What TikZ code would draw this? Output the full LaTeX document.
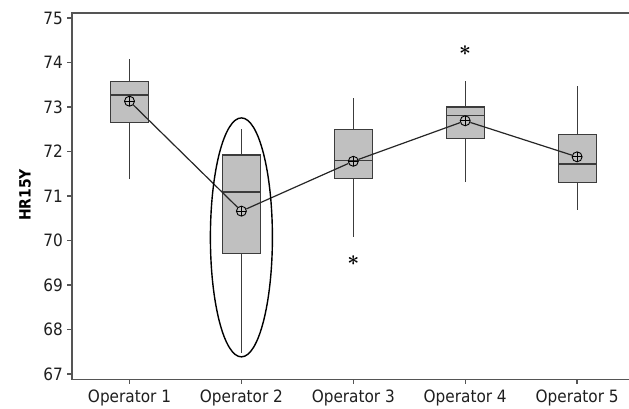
\documentclass[tikz,border=0pt]{standalone}
\usepackage{fontspec}
\setmainfont{DejaVu Sans Condensed}
\definecolor{boxfill}{RGB}{192,192,192}
\definecolor{boxline}{RGB}{60,60,60}
\definecolor{axisgray}{RGB}{85,85,85}
\tikzset{
  axis/.style={draw=axisgray, line width=1.3pt},
  whisker/.style={draw=boxline, line width=1.1pt},
  qbox/.style={fill=boxfill, draw=boxline, line width=1.2pt},
  mean/.style={circle, draw=black, line width=0.9pt, inner sep=0pt, minimum size=10pt,
    path picture={\draw[line width=0.8pt] (path picture bounding box.north) -- (path picture bounding box.south)
      (path picture bounding box.west) -- (path picture bounding box.east);}},
  meanline/.style={draw=black!85, line width=1.2pt},
  outlier/.style={inner sep=0pt, font=\fontsize{20}{20}\selectfont\boldmath},
  ticklabel/.style={font=\fontsize{17}{20}\selectfont, text=black!88},
}
\begin{document}
\begin{tikzpicture}[x=1pt,y=1pt]
\useasboundingbox (0,0) rectangle (629,409);

\node[rotate=90, font=\fontsize{15.5}{18}\selectfont\bfseries] (ylab) at (25,214) {HR15Y};

% y = 44.5pt per unit, 75 at 391pt
\begin{scope}[y=44.5pt, yshift=-2946.5pt]

\draw[axis] (629,75.11) -- (72,75.11) -- (72,66.87) -- (629,66.87);

\foreach \v in {67,68,...,75}{
\draw[axis] (67,\v) -- (72,\v);
\node[ticklabel, anchor=east, inner sep=0pt] (yt\v) at (63,\v) {\v}; }

\foreach \i in {1,...,5}{
\pgfmathparse{129.5+(\i-1)*111.9} \let\xx\pgfmathresult
\draw[axis] (\xx,66.87) -- (\xx,66.78);
\node[ticklabel, anchor=base, inner sep=0pt] (xt\i) at (\xx,66.36) {Operator \i}; }

% whiskers, boxes, medians and means
\foreach \i/\lo/\qa/\md/\qc/\hi/\mn in {1/71.38/72.66/73.27/73.58/74.08/73.13,
  2/67.47/69.70/71.09/71.92/72.50/70.66, 3/70.08/71.40/71.80/72.50/73.20/71.78,
  4/71.31/72.30/72.80/73.00/73.58/72.69, 5/70.69/71.31/71.72/72.39/73.47/71.88}{
\pgfmathparse{129.5+(\i-1)*111.9} \let\xx\pgfmathresult
\draw[whisker] (\xx,\lo) -- (\xx,\qa) (\xx,\qc) -- (\xx,\hi);
\filldraw[qbox] ({\xx-19},\qa) rectangle ({\xx+19},\qc);
\draw[whisker] ({\xx-19},\md) -- ({\xx+19},\md);
\node[mean] (m\i) at (\xx,\mn) {}; }

\draw[meanline] (m1) -- (m2) -- (m3) -- (m4) -- (m5);

\node[outlier] (o3) at (353.3,69.54) {$\ast$};
\node[outlier] (o4) at (465.2,74.26) {$\ast$};

\draw[black, line width=1.4pt] (241.4,70.07) ellipse [x radius=31, y radius=2.685];
\end{scope}
\end{tikzpicture}
\end{document}
